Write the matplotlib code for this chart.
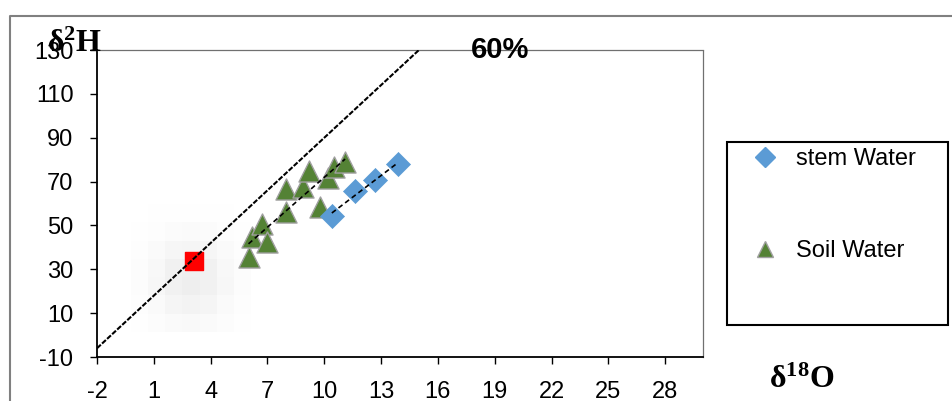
"""
Dual isotope plot of stem and soil water against the meteoric water line.
"""

import numpy as np
import matplotlib
matplotlib.use("Agg")
import matplotlib.pyplot as plt
from matplotlib.lines import Line2D
from matplotlib.patches import Rectangle

# delta 18O / delta 2H values
stem_d18o = [10.4, 11.6, 12.7, 13.9]
stem_d2h = [54.5, 65.5, 70.5, 78.2]

soil_d18o = [6.0, 6.2, 6.7, 7.0, 8.0, 8.0, 8.9, 9.2, 9.8, 10.2, 10.5, 11.1]
soil_d2h = [35.5, 44.5, 50.5, 42.3, 66.4, 55.9, 67.7, 75.0, 58.2, 71.8, 76.8, 79.1]

source_d18o = [3.1]
source_d2h = [33.6]

x_ticks = [-2, 1, 4, 7, 10, 13, 16, 19, 22, 25, 28]
y_ticks = [-10, 10, 30, 50, 70, 90, 110, 130]

plt.rcParams["font.family"] = ["Liberation Sans", "DejaVu Sans"]
plt.rcParams["axes.unicode_minus"] = False
plt.rcParams["mathtext.fontset"] = "custom"
plt.rcParams["mathtext.rm"] = "Liberation Serif"
plt.rcParams["mathtext.bf"] = "Liberation Serif:bold"

fig = plt.figure(figsize=(9.52, 4.01), dpi=100)
ax = fig.add_axes([0.1019, 0.1097, 0.6366, 0.7656])

ax.set_xlim(-2, 30)
ax.set_ylim(-10, 130)
ax.set_xticks(x_ticks)
ax.set_yticks(y_ticks)
ax.tick_params(direction="out", length=5, width=1, labelsize=17, pad=12)

for side in ("left", "bottom"):
    ax.spines[side].set_linewidth(1.3)
for side in ("top", "right"):
    ax.spines[side].set_linestyle((0, (1, 1)))
    ax.spines[side].set_color("#707070")
    ax.spines[side].set_linewidth(0.9)

# soft grey shadow behind the source sample
gx, gy = np.meshgrid(np.arange(-3, 4), np.arange(-3, 4))
glow = np.zeros((7, 7, 4))
glow[..., :3] = 0.55
glow[..., 3] = 0.15 * np.exp(-(gx ** 2 + (gy - 0.6) ** 2) / 5.0)
ax.imshow(glow, extent=(source_d18o[0] - 3.3, source_d18o[0] + 3.0,
                        source_d2h[0] - 32, source_d2h[0] + 26),
          interpolation="nearest", aspect="auto", zorder=0)

# global meteoric water line
gx_line = np.array([-2, 15])
ax.plot(gx_line, 8 * gx_line + 10, color="black", lw=1.5,
        linestyle=(0, (2.5, 0.8)), zorder=4)

# linear trend lines
for xs, ys in ((soil_d18o, soil_d2h), (stem_d18o, stem_d2h)):
    k, b = np.polyfit(xs, ys, 1)
    xr = np.array([min(xs), max(xs)])
    ax.plot(xr, k * xr + b, color="black", lw=1.2, linestyle=(0, (3, 2)), zorder=4)

ax.scatter(soil_d18o, soil_d2h, marker="^", s=230, color="#548235",
           edgecolor="#a0a0a0", linewidth=1, zorder=3)
ax.scatter(stem_d18o, stem_d2h, marker="D", s=150, color="#5b9bd5",
           edgecolor="#5b9bd5", linewidth=0.5, zorder=3)
ax.scatter(source_d18o, source_d2h, marker="s", s=150, color="#ff0000",
           edgecolor="#ff0000", zorder=3)

ax.text(19.3, 130, "60%", fontsize=21, fontweight="bold", ha="center", va="center",
        zorder=6)

fig.text(75 / 952, 1 - 44 / 401, r"$\mathbf{δ^2H}$", fontsize=23, ha="center", va="center")
fig.text(802 / 952, 1 - 380 / 401, r"$\mathbf{δ^{18}O}$", fontsize=23, ha="center", va="center")

# legend box
fig.patches.append(Rectangle((727 / 952, 76 / 401), 221 / 952, 183 / 401,
                             transform=fig.transFigure, fill=False,
                             edgecolor="black", lw=1.5))
handles = [
    Line2D([], [], marker="D", ls="none", ms=10, color="#5b9bd5"),
    Line2D([], [], marker="^", ls="none", ms=12, color="#548235", mec="#a0a0a0"),
]
fig.legend(handles, ["stem Water", "Soil Water"], loc="upper left",
           bbox_to_anchor=(730 / 952, 1 - 127 / 401), frameon=False,
           fontsize=17, labelspacing=2.95, handletextpad=0.7, handlelength=1.2)

# chart area border
fig.add_artist(Line2D([10 / 952, 10 / 952, 1], [0, 1 - 16 / 401, 1 - 16 / 401],
                      transform=fig.transFigure, color="#808080", lw=1.5))

fig.savefig("out.png", dpi=100)
